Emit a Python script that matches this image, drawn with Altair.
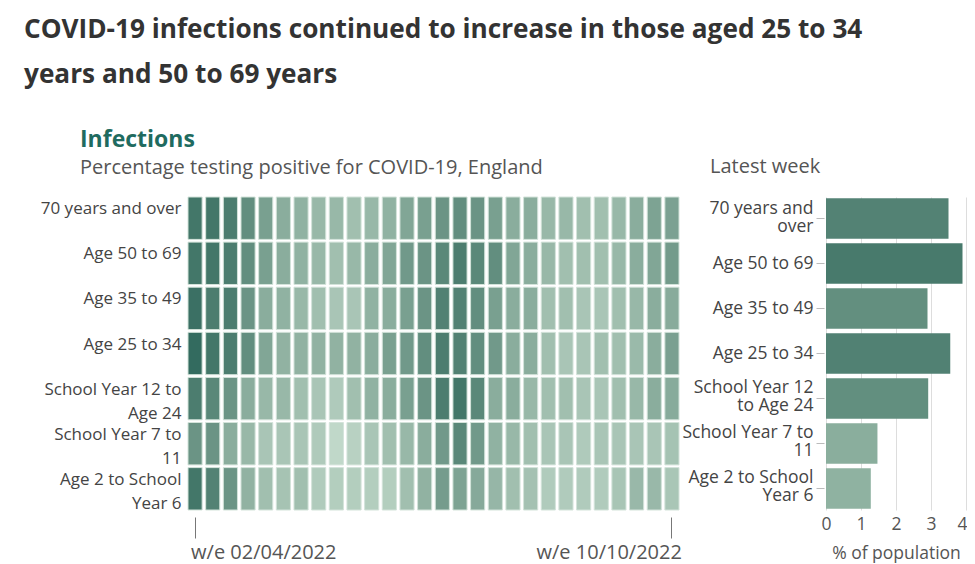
import altair as alt
import pandas as pd

# ---- data ----
groups = ["70 years and over", "Age 50 to 69", "Age 35 to 49", "Age 25 to 34",
          "School Year 12 to Age 24", "School Year 7 to 11", "Age 2 to School Year 6"]
hm_labels = ["70 years and over", "Age 50 to 69", "Age 35 to 49", "Age 25 to 34",
             "School Year 12 to|Age 24", "School Year 7 to|11", "Age 2 to School|Year 6"]
bar_labels = ["70 years and|over", "Age 50 to 69", "Age 35 to 49", "Age 25 to 34",
              "School Year 12|to Age 24", "School Year 7 to|11", "Age 2 to School|Year 6"]
weeks = list(range(1, 29))
x_tick_labels = ["w/e 02/04/2022", "w/e 10/10/2022"]
pop_ticks = [0, 1, 2, 3, 4]

pct_70_over = [6.2, 6.2, 5.8, 4.7, 3.6, 2.8, 2.5, 2.1, 2.1, 1.7, 2.1, 2.5, 3.2, 3.6,
               4.3, 4.7, 4.3, 3.6, 2.8, 2.8, 2.1, 2.1, 1.7, 1.7, 2.1, 2.8, 3.4, 3.5]
pct_50_69 = [6.2, 6.2, 5.8, 4.7, 3.6, 2.8, 2.5, 2.1, 1.7, 2.1, 2.8, 3.2, 4.0, 4.3,
             5.1, 5.8, 5.1, 4.7, 3.2, 2.8, 2.1, 1.7, 1.7, 1.7, 2.1, 2.8, 3.2, 3.9]
pct_35_49 = [6.6, 5.8, 5.8, 4.3, 2.8, 2.5, 2.1, 1.7, 1.3, 1.3, 2.5, 2.8, 3.6, 4.3,
             5.5, 5.5, 4.7, 3.6, 2.8, 2.8, 1.7, 1.7, 1.3, 1.3, 1.7, 2.1, 2.8, 2.9]
pct_25_34 = [6.95, 6.2, 5.8, 4.7, 3.2, 2.45, 2.45, 2.45, 2.45, 2.45, 2.8, 3.6, 4.0, 4.7,
             5.8, 5.5, 4.7, 4.0, 2.8, 2.8, 1.7, 1.3, 1.3, 1.7, 1.7, 2.0, 2.8, 3.55]
pct_y12_24 = [5.8, 5.1, 4.3, 2.8, 2.1, 2.1, 1.7, 1.3, 1.0, 1.7, 2.5, 2.8, 3.6, 4.3,
              5.8, 6.2, 5.1, 2.8, 2.8, 2.1, 1.7, 1.7, 1.3, 1.3, 1.7, 2.1, 2.8, 2.92]
pct_y7_11 = [4.3, 4.3, 2.8, 2.1, 1.3, 1.3, 1.3, 1.0, 0.2, 0.6, 1.3, 1.7, 2.1, 2.8,
             4.0, 5.1, 4.0, 2.5, 2.1, 1.7, 1.3, 1.3, 1.0, 1.3, 1.3, 1.3, 1.3, 1.47]
pct_2_y6 = [6.2, 5.45, 4.3, 2.45, 1.7, 1.45, 1.7, 0.95, 0.8, 0.8, 0.8, 0.8, 1.7, 2.45,
            3.8, 3.4, 3.0, 2.2, 1.7, 1.55, 0.95, 0.95, 0.95, 0.95, 1.33, 2.08, 2.08, 1.28]
series = [pct_70_over, pct_50_69, pct_35_49, pct_25_34, pct_y12_24, pct_y7_11, pct_2_y6]

latest_week = [3.5, 3.9, 2.9, 3.55, 2.92, 1.47, 1.28]

# ---- tables ----
hm_rows = []
for lab, vals in zip(hm_labels, series):
    for w, v in zip(weeks, vals):
        hm_rows.append({"group": lab, "week": w, "pct": v})
hm_df = pd.DataFrame(hm_rows)
bar_df = pd.DataFrame({"group": bar_labels, "latest": latest_week})

FONT = "Open Sans"
GREY = "#555555"

x_label_expr = f"datum.value == 1 ? '{x_tick_labels[0]}' : '{x_tick_labels[1]}'"

heat = alt.Chart(hm_df).mark_rect(stroke="#d3e3da", strokeWidth=1).encode(
    x=alt.X("week:O",
            scale=alt.Scale(paddingInner=0.2, paddingOuter=0),
            axis=alt.Axis(values=[1, 28], labelExpr=x_label_expr, title=None,
                          domain=False, tickSize=21, offset=7, tickColor="#777777",
                          labelAngle=0, labelFontSize=20, labelColor=GREY,
                          labelPadding=4,
                          labelAlign={"condition": {"test": "datum.value == 1", "value": "left"},
                                      "value": "right"},
                          labelOffset={"condition": {"test": "datum.value == 1", "value": -4},
                                       "value": 10})),
    y=alt.Y("group:N", sort=hm_labels,
            scale=alt.Scale(paddingInner=0.06, paddingOuter=0),
            axis=alt.Axis(title=None, labelExpr="split(datum.label, '|')", ticks=False,
                          domain=False, labelPadding=7, labelFontSize=17,
                          labelColor="#444444", labelLineHeight=24, labelLimit=220,
                          labelOffset=-9)),
    color=alt.Color("pct:Q", scale=alt.Scale(domain=[0.2, 6.95], range=["#c0d8c9", "#336b5f"]),
                    legend=None),
).properties(
    width=491, height=313,
    title=alt.TitleParams("Infections", subtitle="Percentage testing positive for COVID-19, England",
                          anchor="start", frame="group", dx=-108, fontSize=23, fontWeight="bold",
                          color="#1f6b60", subtitleFontSize=20, subtitleColor=GREY,
                          subtitlePadding=6, offset=21, font=FONT, subtitleFont=FONT, dy=2),
)

bars = alt.Chart(bar_df).mark_bar().encode(
    x=alt.X("latest:Q", scale=alt.Scale(domain=[0, 4]),
            axis=alt.Axis(values=pop_ticks, title="% of population", grid=True,
                          gridColor="#dddddd", domain=False, ticks=False, labelPadding=5,
                          labelFlush=False,
                          labelAlign={"condition": {"test": "datum.value == 4", "value": "right"},
                                      "value": "center"},
                          labelOffset={"condition": {"test": "datum.value == 4", "value": 1},
                                       "value": 0},
                          labelFontSize=17.5, labelColor=GREY, titleFontSize=17.5,
                          titleFontWeight="normal", titleColor=GREY, titlePadding=12)),
    y=alt.Y("group:N", sort=bar_labels,
            scale=alt.Scale(paddingInner=0.1, paddingOuter=0.03),
            axis=alt.Axis(title=None, labelExpr="split(datum.label, '|')", tickSize=8,
                          offset=2, tickColor="#bbbbbb", domain=False, labelPadding=3,
                          labelLineHeight=18, labelFontSize=17.5, labelColor="#444444",
                          labelLimit=220,
                          labelOffset={"condition": {"test": "indexof(datum.value, '|') >= 0",
                                                     "value": -10},
                                       "value": 0})),
    color=alt.Color("latest:Q", scale=alt.Scale(domain=[0, 4], range=["#b2cfbe", "#45786a"]),
                    legend=None),
).properties(
    width=140, height=313,
    title=alt.TitleParams("Latest week", anchor="start", frame="group", dx=-116, fontSize=20,
                          fontWeight="normal", color=GREY, offset=20, font=FONT),
)

chart = alt.hconcat(heat, bars, spacing=147, bounds="flush").resolve_scale(
    color="independent"
).properties(
    title=alt.TitleParams(["COVID-19 infections continued to increase in those aged 25 to 34",
                           "years and 50 to 69 years"],
                          anchor="start", frame="group", dx=-164, fontSize=26.2, fontWeight="bold",
                          color="#333333", lineHeight=45, offset=40, font=FONT),
    padding={"left": 16, "top": 9, "right": 0, "bottom": 2},
).configure(font=FONT).configure_view(stroke=None)

chart.save("out.html", embed_options={"renderer": "svg", "actions": False})
